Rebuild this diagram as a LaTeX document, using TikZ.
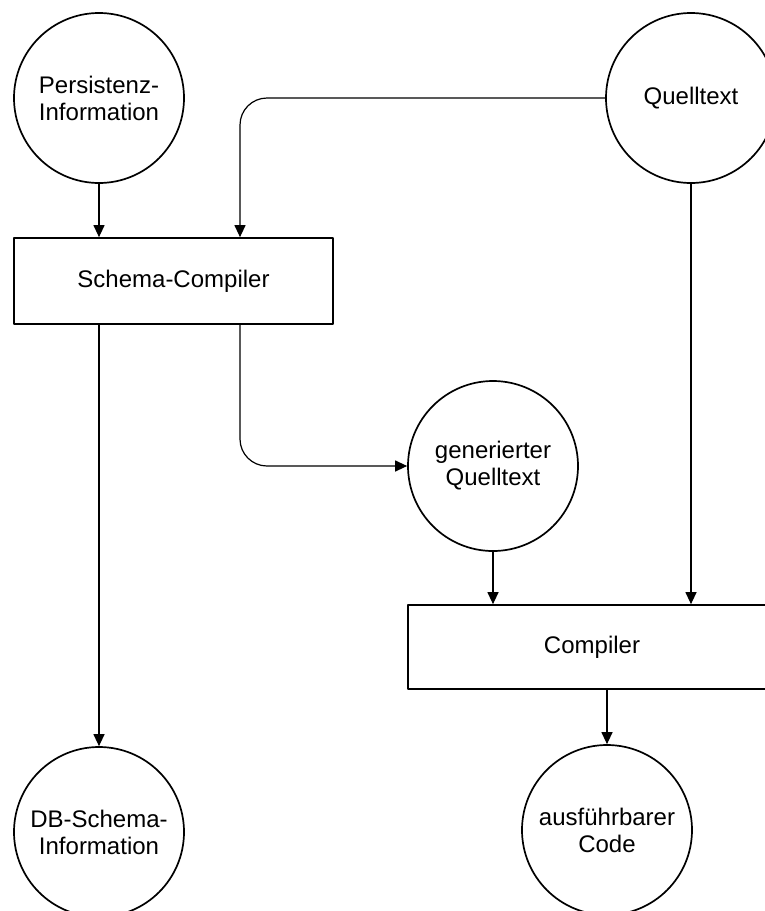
\documentclass[tikz,border=0pt]{standalone}
\usepackage{fontspec}
\setmainfont{Liberation Sans}
\usetikzlibrary{arrows.meta,positioning}

\begin{document}
\begin{tikzpicture}[x=1pt,y=-1pt,line cap=round,line join=round,
    font=\fontsize{24}{27}\selectfont,
    datum/.style={draw,circle,line width=1.7pt,minimum size=170pt,inner sep=0pt,align=center},
    prog/.style={draw,rectangle,line width=1.7pt,inner sep=0pt,align=center},
    flow/.style={line width=1.2pt,-{Triangle[length=12pt,width=11pt]}}]
  \useasboundingbox (0,0) rectangle (765,911);
  \node[datum] (P) at (99,98) {Persistenz-\\Information};
  \node[datum] (Q) at (691,98) {Quelltext};
  \node[prog,minimum width=319pt,minimum height=86pt] (SC) at (173.5,281) {Schema-Compiler};
  \node[datum] (G) at (493,466) {generierter\\Quelltext};
  \node[prog,minimum width=368pt,minimum height=84pt] (C) at (592,647) {Compiler};
  \node[datum] (D) at (99,832) {DB-Schema-\\Information};
  \node[datum] (A) at (607,830) {ausführbarer\\Code};
  \draw[flow] (P) -- (P |- SC.north);
  \draw[flow,rounded corners=27pt] (Q.west) -| ([xshift=66.5pt]SC.north);
  \draw[flow,rounded corners=27pt] ([xshift=66.5pt]SC.south) |- (G.west);
  \draw[flow] (D |- SC.south) -- (D);
  \draw[flow] (Q) -- (Q |- C.north);
  \draw[flow] (G) -- (G |- C.north);
  \draw[flow] (A |- C.south) -- (A);
\end{tikzpicture}
\end{document}
